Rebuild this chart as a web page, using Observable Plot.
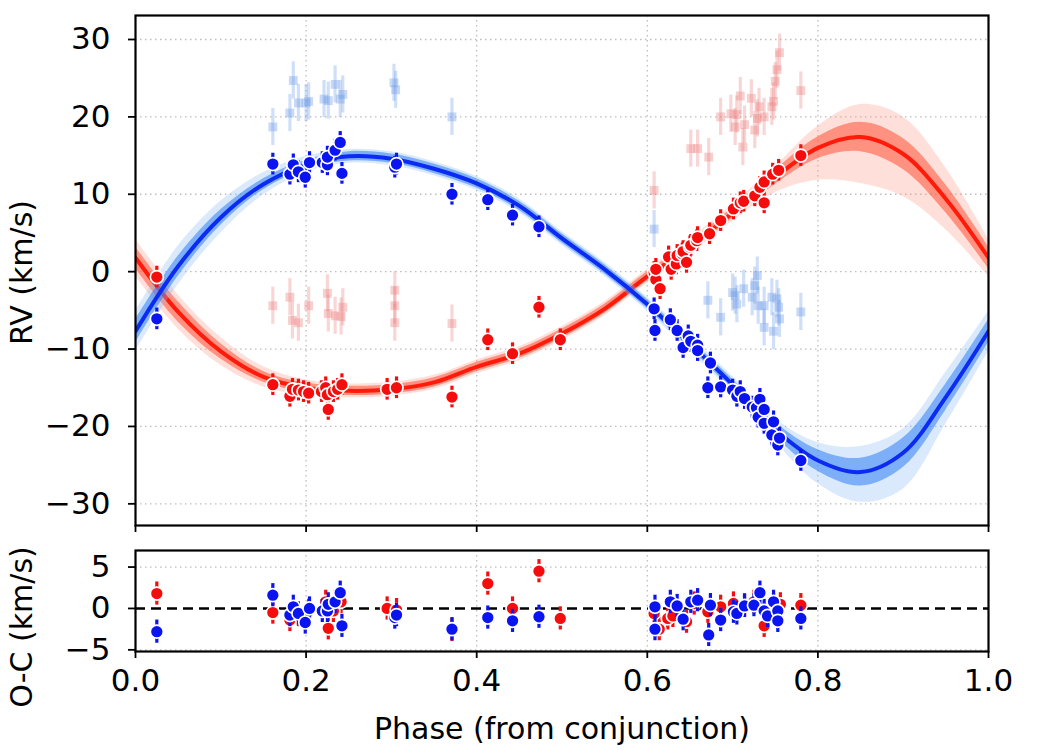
<!DOCTYPE html>
<html>
<head>
<meta charset="utf-8">
<script src="https://cdn.jsdelivr.net/npm/d3@7"></script>
<script src="https://cdn.jsdelivr.net/npm/@observablehq/plot@0.6"></script>
<style>
  body { margin: 0; background: #fff; }
  #chart { width: 1040px; height: 750px; }
  #chart svg { display: block; }
</style>
</head>
<body>
<div id="chart"></div>
<script>
// ---- Orbital model (median curve) sampled over phase ----
const phaseGrid = [0, 0.05, 0.10, 0.15, 0.20, 0.25, 0.30, 0.35, 0.40, 0.45, 0.50,
                   0.55, 0.60, 0.65, 0.70, 0.75, 0.80, 0.85, 0.90, 0.95, 1.00];
const blueModel = [-7.7, 0.7, 7.0, 11.3, 13.8, 14.9, 14.6, 13.3, 11.4, 8.5, 4.3,
                   0.3, -4.2, -9.3, -14.6, -20.4, -24.4, -25.9, -23.4, -16.2, -7.7];
const redModel  = [1.8, -5.2, -10.3, -13.6, -15.0, -15.4, -15.2, -14.3, -12.3, -10.6, -8.0,
                   -4.8, -0.6, 3.2, 7.6, 12.2, 16.0, 17.4, 15.2, 9.4, 1.8];
// posterior spread of the sampled orbits (km/s below / above the median curve)
const blueInner   = [1.5, 1.3, 1.0, 0.7, 0.6, 0.6, 0.6, 0.6, 0.6, 0.6, 0.6, 0.6, 0.6, 0.6, 0.7, 0.9, 1.4, 1.8, 1.9, 1.7, 1.5];
const blueOuterLo = [2.6, 2.4, 2.0, 1.4, 1.0, 0.9, 0.9, 0.9, 0.9, 0.9, 0.9, 0.9, 0.9, 1.0, 1.1, 1.6, 3.0, 3.9, 4.7, 3.5, 2.6];
const blueOuterHi = [2.6, 2.6, 2.1, 1.5, 1.1, 0.9, 0.9, 0.9, 0.9, 0.9, 0.9, 0.9, 0.9, 1.0, 1.1, 1.4, 2.3, 3.3, 3.1, 3.2, 2.6];
const redInner    = [1.4, 1.3, 1.0, 0.7, 0.6, 0.6, 0.6, 0.6, 0.6, 0.6, 0.6, 0.6, 0.6, 0.6, 0.7, 0.9, 1.4, 1.9, 2.0, 1.8, 1.4];
const redOuterLo  = [2.4, 2.2, 1.8, 1.3, 1.0, 0.9, 0.9, 0.9, 0.9, 0.9, 0.9, 0.9, 0.9, 1.0, 1.1, 2.0, 4.2, 6.0, 5.5, 4.0, 2.4];
const redOuterHi  = [2.4, 2.2, 1.8, 1.3, 1.0, 0.9, 0.9, 0.9, 0.9, 0.9, 0.9, 0.9, 0.9, 1.0, 1.1, 1.4, 2.8, 4.2, 4.8, 4.0, 2.4];

// ---- Measured radial velocities ----
const redPhase = [0.025, 0.161, 0.181, 0.184, 0.191, 0.197, 0.203, 0.218, 0.223, 0.225, 0.226, 0.232, 0.237, 0.242,
                  0.295, 0.306, 0.371, 0.413, 0.442, 0.473, 0.498, 0.608, 0.610, 0.615, 0.610, 0.625, 0.628, 0.634,
                  0.635, 0.641, 0.642, 0.646, 0.650, 0.651, 0.658, 0.659, 0.673, 0.686, 0.701, 0.709, 0.713, 0.726,
                  0.732, 0.737, 0.737, 0.747, 0.754, 0.780];
const redRV    = [-0.7, -14.6, -16.1, -15.2, -15.3, -15.5, -15.7, -15.5, -15.0, -15.9, -17.8, -15.5, -15.2, -14.6,
                  -15.2, -15.0, -16.2, -8.8, -10.6, -4.6, -8.8, -0.1, -1.0, -2.2, 0.3, 1.9, 0.3, 1.0,
                  2.1, 2.3, 2.6, 1.2, 3.2, 3.4, 4.0, 4.4, 4.9, 6.6, 8.1, 8.9, 9.1, 9.8,
                  10.9, 11.6, 8.9, 12.6, 13.1, 15.0];
const bluePhase = [0.025, 0.161, 0.181, 0.185, 0.191, 0.199, 0.204, 0.219, 0.225, 0.225, 0.234, 0.240, 0.242, 0.304,
                   0.306, 0.371, 0.413, 0.442, 0.473, 0.608, 0.609, 0.627, 0.635, 0.642, 0.648, 0.651, 0.659, 0.659,
                   0.671, 0.674, 0.686, 0.700, 0.705, 0.709, 0.714, 0.723, 0.728, 0.730, 0.732, 0.737, 0.737, 0.746,
                   0.748, 0.753, 0.755, 0.780];
const blueRV    = [-6.1, 13.9, 12.6, 13.8, 12.9, 12.2, 14.1, 14.1, 13.8, 14.8, 15.7, 16.7, 12.7, 13.5,
                   13.9, 10.0, 9.3, 7.3, 5.8, -4.8, -7.6, -6.2, -7.6, -9.8, -8.3, -9.0, -9.5, -10.2,
                   -15.0, -11.8, -14.9, -15.3, -16.1, -15.5, -16.4, -17.5, -17.6, -18.8, -16.5, -17.8, -19.6, -21.1,
                   -19.4, -22.4, -21.5, -24.4];
const rvErr = 1.4;

// Excluded (blended) measurements
const ghostBluePhase = [0.161, 0.181, 0.185, 0.191, 0.200, 0.203, 0.221, 0.226, 0.234, 0.240, 0.243, 0.303, 0.305, 0.371,
                        0.608, 0.671, 0.686, 0.700, 0.703, 0.705, 0.713, 0.723, 0.726, 0.729, 0.730, 0.737, 0.737, 0.746,
                        0.748, 0.752, 0.754, 0.755, 0.780];
const ghostBlueRV    = [18.7, 20.5, 24.7, 21.8, 21.8, 22.0, 22.3, 22.1, 24.2, 22.3, 22.9, 24.4, 23.5, 20.0,
                        5.5, -3.7, -5.9, -2.7, -3.1, -4.2, -2.2, -3.3, -1.8, -0.5, -4.4, -4.4, -7.2, -3.3,
                        -7.7, -3.5, -4.6, -6.1, -5.2];
const ghostRedPhase  = [0.161, 0.181, 0.184, 0.191, 0.203, 0.225, 0.226, 0.234, 0.241, 0.243, 0.304, 0.304, 0.304, 0.371,
                        0.608, 0.651, 0.659, 0.672, 0.686, 0.698, 0.703, 0.705, 0.709, 0.712, 0.714, 0.722, 0.726, 0.729,
                        0.731, 0.737, 0.746, 0.748, 0.750, 0.752, 0.755, 0.780];
const ghostRedRV     = [-4.4, -3.3, -6.3, -6.6, -4.4, -2.8, -5.4, -5.7, -5.8, -4.6, -2.4, -4.4, -6.6, -6.7,
                        10.5, 15.9, 15.9, 14.8, 20.0, 20.4, 18.7, 20.3, 22.7, 16.1, 19.0, 22.4, 18.3, 19.8,
                        21.3, 20.0, 21.3, 22.0, 24.6, 26.1, 28.3, 23.4];
const ghostErr = 2.4;

// ---- Residuals (observed minus computed) ----
const redResPhase = [0.025, 0.161, 0.181, 0.191, 0.203, 0.223, 0.226, 0.232, 0.241, 0.295, 0.306, 0.371, 0.413, 0.442,
                     0.473, 0.498, 0.608, 0.614, 0.624, 0.630, 0.646, 0.655, 0.671, 0.686, 0.701, 0.714, 0.725, 0.737,
                     0.748, 0.756, 0.780];
const redRes      = [1.8, -0.5, -1.4, -0.8, -0.3, 0.8, -2.4, -0.3, 0.8, 0.0, -0.2, -2.6, 3.0, 0.0,
                     4.5, -1.2, -0.6, -2.5, -1.2, -0.9, -1.6, 0.6, -0.4, 0.2, 0.6, 0.4, 0.8, -2.1,
                     0.4, 0.5, 0.4];
const blueResPhase = [0.025, 0.161, 0.181, 0.185, 0.191, 0.199, 0.204, 0.219, 0.225, 0.226, 0.234, 0.240, 0.242, 0.304,
                      0.306, 0.371, 0.413, 0.442, 0.473, 0.609, 0.609, 0.627, 0.635, 0.642, 0.651, 0.659, 0.672, 0.674,
                      0.686, 0.701, 0.705, 0.714, 0.725, 0.732, 0.737, 0.741, 0.748, 0.753, 0.753, 0.780];
const blueRes      = [-2.8, 1.6, -0.8, 0.2, -0.6, -1.7, 0.0, -0.3, -0.3, 0.5, 0.8, 1.9, -2.1, -1.1,
                      -0.8, -2.5, -1.1, -1.5, -1.0, 0.2, -2.5, 0.8, 0.3, -1.3, 0.8, 1.0, -3.2, 0.4,
                      -1.4, -0.4, -0.6, 0.3, 0.4, 1.9, -0.3, -0.9, 0.8, -0.3, -1.5, -1.2];

const xTicks = [0, 0.2, 0.4, 0.6, 0.8, 1.0];
const rvTicks = [-30, -20, -10, 0, 10, 20, 30];
const ocTicks = [-5, 0, 5];

// ---- helpers ----
const rows = (px, py, err) => px.map((p, i) => ({p, v: py[i], lo: py[i] - err, hi: py[i] + err}));
const band = (main, lo, hi) => phaseGrid.map((p, i) => ({p, lo: main[i] - lo[i], hi: main[i] + hi[i]}));
const line = (main) => phaseGrid.map((p, i) => ({p, v: main[i]}));

const FONT = "'DejaVu Sans', sans-serif";
const TICK_FS = 31;   // tick labels
const LABEL_FS = 30;  // axis titles
const C = {
  blue: "#0a14f0", red: "#f50d0d",
  blueLine: "#0b2bf2", redLine: "#ff1a0a",
  blueInner: "#2f7ff2", blueOuter: "#8cbcf7",
  redInner: "#ff5036", redOuter: "#ff9c8a",
  ghostBlue: "#6c9ae8", ghostRed: "#ec8080",
  grid: "#bdbdbd"
};

const grid = (ticksX, ticksY) => [
  Plot.gridX(ticksX, {stroke: C.grid, strokeOpacity: 1, strokeWidth: 1.3, strokeDasharray: "1.5,3.5"}),
  Plot.gridY(ticksY, {stroke: C.grid, strokeOpacity: 1, strokeWidth: 1.3, strokeDasharray: "1.5,3.5"})
];

const errorPoints = (data, color) => [
  Plot.ruleX(data, {x: "p", y1: "lo", y2: "hi", stroke: color, strokeWidth: 3.2}),
  Plot.dot(data, {x: "p", y: "v", r: 6.5, fill: color, stroke: "white", strokeWidth: 1.7})
];

const ghostPoints = (data, color) => [
  Plot.ruleX(data, {x: "p", y1: "lo", y2: "hi", stroke: color, strokeWidth: 3.2, strokeOpacity: 0.32}),
  Plot.dot(data, {x: "p", y: "v", symbol: "square", r: 5, fill: color, fillOpacity: 0.38, stroke: "none"})
];

const curve = "catmull-rom";
const model = (main, inner, outLo, outHi, cIn, cOut, cLine) => [
  Plot.areaY(band(main, outLo, outHi), {x: "p", y1: "lo", y2: "hi", fill: cOut, fillOpacity: 0.32, curve, clip: true}),
  Plot.areaY(band(main, inner, inner), {x: "p", y1: "lo", y2: "hi", fill: cIn, fillOpacity: 0.55, curve, clip: true}),
  Plot.line(line(main), {x: "p", y: "v", stroke: cLine, strokeWidth: 4, curve, clip: true})
];

const panelStyle = {fontFamily: FONT, fontSize: TICK_FS + "px", color: "black", background: "white", overflow: "visible"};
const yTitle = (text, dy) => Plot.text([text], {
  frameAnchor: "left", textAnchor: "middle", dx: -113, dy, rotate: -90, fontSize: LABEL_FS, fill: "black"
});

// ---- upper panel: radial velocities ----
const rvPanel = Plot.plot({
  width: 1040, height: 540,
  marginLeft: 135, marginRight: 52, marginTop: 15, marginBottom: 15,
  style: panelStyle,
  x: {domain: [0, 1]},
  y: {domain: [-32.8, 33.1]},
  marks: [
    ...grid([0.2, 0.4, 0.6, 0.8], rvTicks),
    ...ghostPoints(rows(ghostBluePhase, ghostBlueRV, ghostErr), C.ghostBlue),
    ...ghostPoints(rows(ghostRedPhase, ghostRedRV, ghostErr), C.ghostRed),
    ...model(redModel, redInner, redOuterLo, redOuterHi, C.redInner, C.redOuter, C.redLine),
    ...model(blueModel, blueInner, blueOuterLo, blueOuterHi, C.blueInner, C.blueOuter, C.blueLine),
    ...errorPoints(rows(redPhase, redRV, rvErr), C.red),
    ...errorPoints(rows(bluePhase, blueRV, rvErr), C.blue),
    Plot.frame({stroke: "black", strokeWidth: 2.2}),
    Plot.axisY({ticks: rvTicks, tickSize: 7, tickPadding: 18, strokeWidth: 1.8, label: null, fontSize: TICK_FS}),
    Plot.axisX({ticks: xTicks, tickSize: 7, strokeWidth: 1.8, tickFormat: () => "", label: null}),
    yTitle("RV (km/s)", 2)
  ]
});

// ---- lower panel: residuals ----
const ocPanel = Plot.plot({
  width: 1040, height: 210,
  marginLeft: 135, marginRight: 52, marginTop: 10, marginBottom: 99,
  style: panelStyle,
  x: {domain: [0, 1]},
  y: {domain: [-5.2, 7.0]},
  marks: [
    ...grid([0.2, 0.4, 0.6, 0.8], [-5, 5]),
    Plot.ruleY([0], {stroke: "black", strokeWidth: 2.6, strokeDasharray: "10,6"}),
    ...errorPoints(rows(redResPhase, redRes, rvErr), C.red),
    ...errorPoints(rows(blueResPhase, blueRes, rvErr), C.blue),
    Plot.frame({stroke: "black", strokeWidth: 2.2}),
    Plot.axisY({ticks: ocTicks, tickSize: 7, tickPadding: 18, strokeWidth: 1.8, label: null, fontSize: TICK_FS}),
    Plot.axisX({ticks: xTicks, tickSize: 7, tickPadding: 10, strokeWidth: 1.8, tickFormat: d3.format(".1f"), label: null, fontSize: TICK_FS}),
    Plot.text(["Phase (from conjunction)"], {frameAnchor: "bottom", dy: 87, fontSize: LABEL_FS, fill: "black"}),
    yTitle("O-C (km/s)", 26)
  ]
});

document.getElementById("chart").append(rvPanel, ocPanel);
</script>
</body>
</html>
